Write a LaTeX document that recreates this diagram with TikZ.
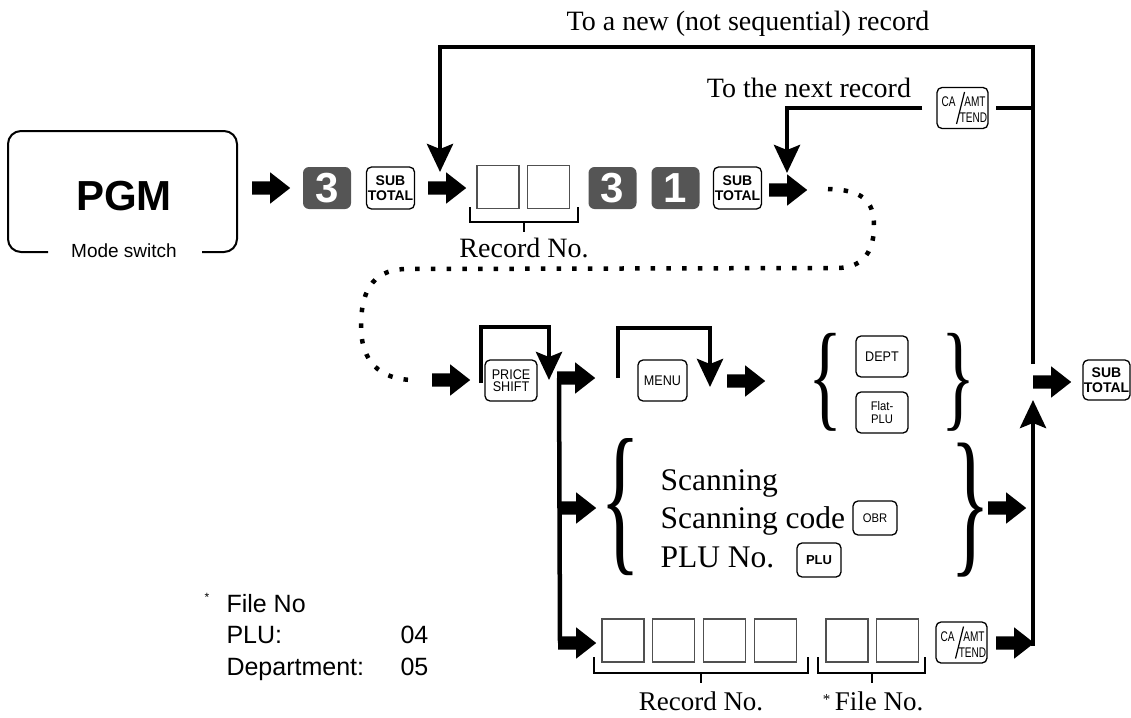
\documentclass[tikz,border=0pt]{standalone}
\usepackage{fontspec}
\setmainfont{Liberation Serif}
\newfontfamily\arial{Liberation Sans}
\newfontfamily\narrowf[FakeStretch=0.9]{Liberation Sans}
\newfontfamily\condf[FakeStretch=0.72]{Liberation Sans}
\usepackage{graphicx}
\usetikzlibrary{arrows.meta,shapes.arrows}
\definecolor{keygray}{HTML}{555555}
\definecolor{boxgray}{HTML}{505050}
\newcommand\fs[2]{\fontsize{#1}{#2}\selectfont}
\tikzset{
  fat/.style={single arrow, fill=black, draw=none, inner xsep=0pt, inner ysep=6.5pt, minimum height=38pt, single arrow head extend=9pt, single arrow tip angle=76, anchor=tail},
  conn/.style={line width=4.5pt, line join=miter},
  tipped/.style={conn, -{Stealth[length=28pt,width=26pt,inset=5pt]}},
  key/.style={draw, line width=1.3pt, rounded corners=5pt, inner sep=0pt, align=center, minimum width=48pt, minimum height=42pt},
  digit/.style={fill=keygray, rounded corners=6pt, inner sep=0pt, minimum width=48pt, minimum height=42pt, text=white, font=\arial\bfseries\fs{42}{42}},
  sub/.style={key, font=\arial\bfseries\fs{14}{14.5}},
  digbox/.style={draw=boxgray, line width=1.3pt, minimum width=42pt, minimum height=43pt, inner sep=0pt},
  brk/.style={line width=2.5pt},
  serif/.style={font=\fs{28}{30}},
  dots/.style={line width=4.5pt, dash pattern=on 4.5pt off 11.2pt},
  cal/.style={font=\condf\fs{14}{14}, inner sep=0pt},
  brace/.style={inner sep=0pt},
}
\newcommand\cakey[3]{%
  \node[key, minimum width=51pt, minimum height=41pt] (#1) at (#2,#3) {};
  \node[cal] (#1ca) at ([xshift=-14pt,yshift=6pt]#1.center) {CA};
  \node[cal] (#1amt) at ([xshift=12.5pt,yshift=6pt]#1.center) {AMT};
  \node[cal] (#1tend) at ([xshift=11pt,yshift=-10pt]#1.center) {TEND};
  \draw[line width=1.2pt] ([xshift=-6pt,yshift=-16pt]#1.center) -- ([xshift=2pt,yshift=16pt]#1.center);
}
\begin{document}
\begin{tikzpicture}[x=1pt,y=-1pt]
\useasboundingbox (0,0) rectangle (1131,717);

% mode switch
\draw[line width=2pt, rounded corners=13pt] (48,252) -- (8,252) -- (8,131) -- (237,131) -- (237,252) -- (202,252);
\node[font=\arial\bfseries\fs{42}{42}, anchor=base] (pgm) at (124,210) {PGM};
\node[font=\arial\fs{19}{19}, anchor=base] (mode) at (124,257) {Mode switch};

% row 1
\node[fat] (fa1) at (252,188) {};
\node[digit] (k3a) at (327,188) {3};
\node[sub] (sta) at (390.5,188) {SUB\\TOTAL};
\node[fat] (fa2) at (428,188) {};
\node[digbox] (b1) at (498,187) {};
\node[digbox] (b2) at (548.5,187) {};
\draw[brk] (470,207) -- (470,222) -- (578,222) -- (578,207);
\draw[brk] (524,222) -- (524,232);
\node[serif, anchor=base] (rn1) at (524,257) {Record No.};
\node[digit] (k3b) at (612.5,188) {3};
\node[digit] (k1) at (675.5,188) {1};
\node[sub] (stb) at (737.5,188) {SUB\\TOTAL};
\node[fat] (fa3) at (769,190) {};

% top texts
\node[serif, anchor=base] (t1) at (748,31) {To a new (not sequential) record};
\node[serif, anchor=base] (t2) at (809,97) {To the next record};
\cakey{ca1}{962.5}{108}

% row 2
\node[fat] (fa4) at (432,380) {};
\node[key, minimum width=52pt, minimum height=41pt, font=\narrowf\fs{14}{12}] (ps) at (511,380.5) {PRICE\\SHIFT};
\node[fat] (fa5) at (557,378) {};
\node[key, minimum width=49pt, minimum height=41pt, font=\narrowf\fs{14}{14}] (menu) at (662.5,380.5) {MENU};
\node[fat] (fa6) at (727,381) {};
\node[key, minimum width=52pt, minimum height=41pt, font=\narrowf\fs{14}{14}] (dept) at (882,356.5) {DEPT};
\node[key, minimum width=52pt, minimum height=41pt, font=\narrowf\fs{12.5}{13.5}] (flat) at (882,412.5) {Flat-\\PLU};
\node[brace] (bl1) at (825,382) {\resizebox*{34pt}{98pt}{\{}};
\node[brace] (br1) at (958.5,382) {\resizebox*{34pt}{98pt}{\}}};
\node[fat] (fa7) at (1033,382) {};
\node[sub, minimum width=47pt, minimum height=40pt] (stc) at (1106.5,380) {SUB\\TOTAL};

% row 3
\node[fat] (fa8) at (558,508) {};
\node[brace] (bl2) at (621,507) {\resizebox*{40pt}{137pt}{\{}};
\node[brace] (br2) at (970,510.5) {\resizebox*{40pt}{134pt}{\}}};
\node[anchor=base west, font=\fs{31.5}{32}] (sc1) at (657,490) {Scanning};
\node[anchor=base west, font=\fs{31.5}{32}] (sc2) at (657,528) {Scanning code};
\node[anchor=base west, font=\fs{31.5}{32}] (sc3) at (657,567) {PLU No.};
\node[key, minimum width=44pt, minimum height=34pt, font=\narrowf\fs{12.5}{12}] (obr) at (875,518) {OBR};
\node[key, minimum width=44pt, minimum height=34pt, font=\arial\bfseries\fs{13}{12}] (plu) at (819,560) {PLU};
\node[fat] (fa9) at (988,508) {};

% row 4
\node[fat] (fa10) at (558,643) {};
\node[digbox] (r1) at (623,640.5) {};
\node[digbox] (r2) at (673.5,640.5) {};
\node[digbox] (r3) at (724.5,640.5) {};
\node[digbox] (r4) at (775.5,640.5) {};
\node[digbox] (f1) at (847,640.5) {};
\node[digbox] (f2) at (897.5,640.5) {};
\draw[brk] (594,657) -- (594,673) -- (808,673) -- (808,657);
\draw[brk] (701,673) -- (701,683);
\draw[brk] (818,657) -- (818,673) -- (925,673) -- (925,657);
\draw[brk] (872,673) -- (872,683);
\node[anchor=base, font=\fs{27}{27}] (rn2) at (701,710) {Record No.};
\node[anchor=base, font=\fs{27}{27}] (fn) at (873,710) {\raisebox{6pt}{\fs{15}{15}*}\,File No.};
\cakey{ca2}{961.5}{642.5}
\node[fat] (fa11) at (996,643) {};

% file no legend
\node[font=\arial\fs{12}{12}] (fnast) at (207,597) {*};
\node[anchor=base west, font=\arial\fs{25}{25}] (fn1) at (223,612) {File No};
\node[anchor=base west, font=\arial\fs{25}{25}] (fn2) at (223,643) {PLU:};
\node[anchor=base west, font=\arial\fs{25}{25}] (fn3) at (223,675) {Department:};
\node[anchor=base west, font=\arial\fs{25}{25}] (fn4) at (397,643) {04};
\node[anchor=base west, font=\arial\fs{25}{25}] (fn5) at (397,675) {05};

% connectors
\coordinate (rjoin) at (1033,364);
\coordinate (rtop) at (1033,47);
\coordinate (newtip) at (440,172);
\draw[tipped] (rjoin) -- (rtop) -- (rtop -| newtip) -- (newtip);
\coordinate (rmid) at (1033,108);
\coordinate (nexttip) at (787,173);
\draw[conn] (rmid) -- ([xshift=7pt]ca1.east);
\draw[tipped] ([xshift=-14pt]ca1.west) -| (nexttip);
\coordinate (rbot) at (1033,646);
\coordinate (rtip) at (1033,400);
\draw[tipped] (rbot) -- (rtip);
\draw[conn] ([xshift=2pt]fa5.tail) -- ([xshift=2pt]fa10.tail);
\coordinate (psl) at (481,383);
\coordinate (pstop) at (549,327);
\coordinate (pstip) at (549,380);
\draw[tipped] (psl) |- (pstop) -- (pstip);
\coordinate (mnl) at (618,378);
\coordinate (mntop) at (710,328);
\coordinate (mntip) at (710,387);
\draw[tipped] (mnl) |- (mntop) -- (mntip);
% dotted path
\draw[dots] (828,189) .. controls (862,190) and (874,200) .. (874,226) .. controls (874,255) and (860,268) .. (837,268) -- (405,269) .. controls (370,270) and (361,295) .. (361,326) .. controls (361,362) and (380,379) .. (412,380);
\end{tikzpicture}
\end{document}
